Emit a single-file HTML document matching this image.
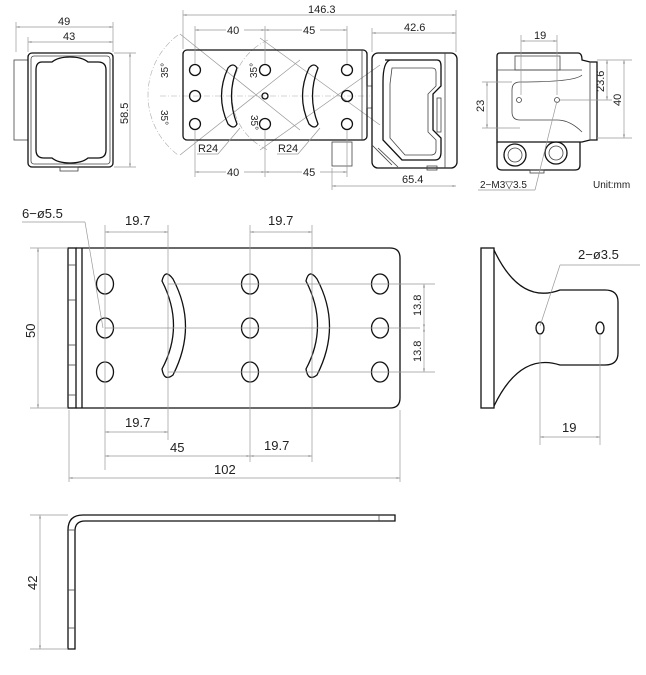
<!DOCTYPE html>
<html><head><meta charset="utf-8"><style>
html,body{margin:0;padding:0;background:#fff;}
svg{display:block;}
text{font-family:"Liberation Sans",sans-serif;fill:#222;}
.o{fill:none;stroke:#111;stroke-width:1.3}
.t{fill:none;stroke:#444;stroke-width:0.8}
.d{fill:none;stroke:#999;stroke-width:0.7}
.c{fill:none;stroke:#aaa;stroke-width:0.6;stroke-dasharray:6 2 1 2}
</style></head><body>
<svg width="646" height="675" viewBox="0 0 646 675" xmlns="http://www.w3.org/2000/svg">
<defs>
<marker id="a" viewBox="0 0 10 10" refX="10" refY="5" markerWidth="7" markerHeight="5" orient="auto-start-reverse"><path d="M0,2L10,5L0,8z" fill="#999"/></marker>
</defs>

<!-- ===== Top-left front view ===== -->
<rect x="14" y="60" width="14" height="80" class="t"/>
<rect x="28" y="53" width="85" height="114" rx="4" class="o"/>
<rect x="31" y="56" width="79" height="108" rx="3" class="t"/>
<path d="M42,62 Q36,62 36,70 L36,150 Q36,158 44,158 L52,158 Q58,163 70,163 Q82,163 88,158 L98,158 Q106,158 106,150 L106,70 Q106,62 98,62 L88,62 Q82,57 70,57 Q58,57 52,62 Z" class="o"/>
<rect x="60" y="167" width="18" height="4" class="t"/>
<line x1="16" y1="22" x2="16" y2="52" class="d"/><line x1="113" y1="22" x2="113" y2="52" class="d"/>
<line x1="16" y1="27" x2="113" y2="27" class="d" marker-start="url(#a)" marker-end="url(#a)"/>
<text x="58" y="25" font-size="11">49</text>
<line x1="28" y1="37" x2="28" y2="52" class="d"/>
<line x1="28" y1="42" x2="113" y2="42" class="d" marker-start="url(#a)" marker-end="url(#a)"/>
<text x="63" y="40" font-size="11">43</text>
<line x1="114" y1="53" x2="136" y2="53" class="d"/><line x1="114" y1="167" x2="136" y2="167" class="d"/>
<line x1="130" y1="53" x2="130" y2="167" class="d" marker-start="url(#a)" marker-end="url(#a)"/>
<text transform="translate(128,124) rotate(-90)" font-size="11">58.5</text>

<!-- ===== Top-middle view ===== -->
<line x1="160" y1="96" x2="370" y2="96" class="c"/>
<line x1="180" y1="34" x2="300" y2="130" class="d"/>
<line x1="180" y1="155" x2="300" y2="60" class="d"/>
<line x1="260" y1="38" x2="380" y2="125" class="d"/>
<line x1="260" y1="150" x2="380" y2="65" class="d"/>
<path d="M178,35 A75,75 0 0 0 178,155" class="c"/>
<path d="M268,40 A60,60 0 0 0 268,150" class="c"/>
<rect x="183" y="50" width="184" height="90" rx="4" class="o"/>
<line x1="362" y1="50" x2="362" y2="140" class="t"/>
<rect x="367" y="86" width="5" height="22" class="t"/>
<g class="o">
<circle cx="195" cy="70" r="5.5"/><circle cx="195" cy="96" r="5.5"/><circle cx="195" cy="124" r="5.5"/>
<circle cx="265" cy="70" r="5.5"/><circle cx="265" cy="96" r="3"/><circle cx="265" cy="124" r="5.5"/>
<circle cx="347" cy="70" r="5.5"/><circle cx="347" cy="96" r="5.5"/><circle cx="347" cy="124" r="5.5"/>
<path d="M228,68 Q215,96 228,124 Q234,130 237,124 Q226,96 237,68 Q233,62 228,68Z"/>
<path d="M309,68 Q296,96 309,124 Q315,130 318,124 Q307,96 318,68 Q314,62 309,68Z"/>
</g>
<!-- camera side -->
<rect x="372" y="53" width="85" height="115" rx="6" class="o"/>
<line x1="445" y1="53" x2="445" y2="168" class="t"/>
<path d="M385,60 L437,60 Q441,60 441,66 L441,86 L433,94 L433,130 L441,138 L441,152 Q441,160 435,160 L402,160 L383,140 L383,82 Q383,62 390,60" class="o"/>
<path d="M392,68 L432,68 Q436,68 436,72 L436,86 L428,94 L428,132 L436,140 L436,150 Q436,155 431,155 L405,155 L390,138 L390,84 Z" class="t"/>
<rect x="437" y="98" width="4" height="34" class="t"/>
<rect x="332" y="142" width="20" height="24" class="t"/>
<path d="M372,145 L392,165 M378,148 L398,167" class="t"/>
<rect x="427" y="166" width="10" height="4" class="t"/>
<!-- dims -->
<line x1="183" y1="10" x2="183" y2="49" class="d"/><line x1="456" y1="10" x2="456" y2="52" class="d"/>
<line x1="183" y1="15" x2="456" y2="15" class="d" marker-start="url(#a)" marker-end="url(#a)"/>
<text x="308" y="13" font-size="11">146.3</text>
<line x1="195" y1="26" x2="195" y2="64" class="d"/><line x1="265" y1="26" x2="265" y2="64" class="d"/><line x1="347" y1="26" x2="347" y2="64" class="d"/>
<line x1="195" y1="30" x2="265" y2="30" class="d" marker-start="url(#a)" marker-end="url(#a)"/>
<line x1="265" y1="30" x2="347" y2="30" class="d" marker-start="url(#a)" marker-end="url(#a)"/>
<rect x="226" y="24" width="18" height="10" fill="#fff"/><text x="227" y="34" font-size="11">40</text>
<rect x="302" y="24" width="18" height="10" fill="#fff"/><text x="303" y="34" font-size="11">45</text>
<line x1="372" y1="28" x2="372" y2="52" class="d"/>
<line x1="372" y1="33" x2="456" y2="33" class="d" marker-start="url(#a)" marker-end="url(#a)"/>
<text x="404" y="31" font-size="11">42.6</text>
<line x1="195" y1="130" x2="195" y2="177" class="d"/><line x1="265" y1="130" x2="265" y2="177" class="d"/><line x1="347" y1="130" x2="347" y2="177" class="d"/>
<line x1="195" y1="172" x2="265" y2="172" class="d" marker-start="url(#a)" marker-end="url(#a)"/>
<line x1="265" y1="172" x2="347" y2="172" class="d" marker-start="url(#a)" marker-end="url(#a)"/>
<rect x="226" y="166" width="18" height="10" fill="#fff"/><text x="227" y="176" font-size="11">40</text>
<rect x="302" y="166" width="18" height="10" fill="#fff"/><text x="303" y="176" font-size="11">45</text>
<line x1="332" y1="168" x2="332" y2="190" class="d"/>
<line x1="332" y1="186" x2="456" y2="186" class="d" marker-start="url(#a)" marker-end="url(#a)"/>
<text x="402" y="183" font-size="11">65.4</text>
<text x="198" y="152" font-size="11">R24</text><line x1="197" y1="154" x2="218" y2="154" class="d"/><line x1="218" y1="154" x2="240" y2="128" class="d"/>
<text x="278" y="152" font-size="11">R24</text><line x1="277" y1="154" x2="298" y2="154" class="d"/><line x1="298" y1="154" x2="320" y2="128" class="d"/>
<text transform="translate(168,78) rotate(-90)" font-size="10">35°</text>
<text transform="translate(161,110) rotate(90)" font-size="10">35°</text>
<text transform="translate(257,78) rotate(-90)" font-size="10">35°</text>
<text transform="translate(251,115) rotate(90)" font-size="10">35°</text>

<!-- ===== Top-right view ===== -->
<path d="M500,53 L578,53 Q582,53 582,60 L590,62 L597,62 L597,140 L590,140 L582,142 L497,142 L497,56 Q497,53 500,53Z" class="o"/>
<line x1="590" y1="62" x2="590" y2="140" class="t"/>
<rect x="515" y="56" width="45" height="14" class="t"/>
<line x1="497" y1="70" x2="582" y2="70" class="t"/>
<path d="M582,75 Q575,82 520,82 Q512,82 512,90 L512,112 Q512,120 520,120 L557,120 Q570,120 582,132" class="t"/>
<circle cx="519" cy="100" r="2.5" class="t"/><circle cx="557" cy="100" r="2.5" class="t"/>
<path d="M497,142 L497,165 Q497,170 502,170 L575,170 Q580,170 580,165 L580,142" class="o"/>
<circle cx="515" cy="155" r="11" class="o"/><circle cx="515" cy="155" r="7" class="t"/>
<circle cx="556" cy="153" r="11" class="o"/><circle cx="556" cy="153" r="7" class="t"/>
<rect x="530" y="170" width="14" height="3" class="t"/>
<line x1="521" y1="35" x2="521" y2="95" class="d"/><line x1="557" y1="35" x2="557" y2="95" class="d"/>
<line x1="521" y1="41" x2="557" y2="41" class="d" marker-start="url(#a)" marker-end="url(#a)"/>
<text x="534" y="39" font-size="11">19</text>
<line x1="482" y1="82" x2="512" y2="82" class="d"/><line x1="482" y1="128" x2="520" y2="128" class="d"/>
<line x1="487" y1="82" x2="487" y2="128" class="d" marker-start="url(#a)" marker-end="url(#a)"/>
<text transform="translate(484,112) rotate(-90)" font-size="11">23</text>
<line x1="597" y1="60" x2="632" y2="60" class="d"/><line x1="560" y1="100" x2="612" y2="100" class="d"/><line x1="597" y1="138" x2="632" y2="138" class="d"/>
<line x1="607" y1="60" x2="607" y2="100" class="d" marker-start="url(#a)" marker-end="url(#a)"/>
<text transform="translate(604,92) rotate(-90)" font-size="11">23.6</text>
<line x1="624" y1="60" x2="624" y2="138" class="d" marker-start="url(#a)" marker-end="url(#a)"/>
<text transform="translate(621,106) rotate(-90)" font-size="11">40</text>
<text x="480" y="188" font-size="10">2−M3▽3.5</text>
<line x1="478" y1="190" x2="535" y2="190" class="d"/><line x1="535" y1="190" x2="557" y2="101" class="d"/>
<text x="593" y="188" font-size="10">Unit:mm</text>

<!-- ===== Middle: plate ===== -->
<rect x="68" y="248" width="8" height="160" class="o"/>
<line x1="68" y1="265" x2="76" y2="265" class="t"/><line x1="68" y1="300" x2="76" y2="300" class="t"/><line x1="68" y1="345" x2="76" y2="345" class="t"/><line x1="68" y1="365" x2="76" y2="365" class="t"/><line x1="68" y1="395" x2="76" y2="395" class="t"/>
<path d="M76,248 L390,248 Q400,248 400,258 L400,398 Q400,408 390,408 L76,408" class="o"/>
<line x1="82" y1="248" x2="82" y2="408" class="o"/>
<g class="o">
<ellipse cx="105" cy="284" rx="8.5" ry="10"/><ellipse cx="105" cy="328" rx="8.5" ry="10"/><ellipse cx="105" cy="372" rx="8.5" ry="10"/>
<ellipse cx="250" cy="284" rx="8.5" ry="10"/><ellipse cx="250" cy="328" rx="8.5" ry="10"/><ellipse cx="250" cy="372" rx="8.5" ry="10"/>
<ellipse cx="380" cy="284" rx="8.5" ry="10"/><ellipse cx="380" cy="328" rx="8.5" ry="10"/><ellipse cx="380" cy="372" rx="8.5" ry="10"/>
<path d="M162,281 Q185,326 162,369 Q164,382 173,375 Q198,326 173,279 Q165,268 162,281Z"/>
<path d="M306,281 Q329,326 306,369 Q308,382 317,375 Q342,326 317,279 Q309,268 306,281Z"/>
</g>
<line x1="105" y1="328" x2="420" y2="328" class="d"/>
<line x1="168" y1="284" x2="435" y2="284" class="d"/>
<line x1="168" y1="372" x2="435" y2="372" class="d"/>
<line x1="424" y1="284" x2="424" y2="328" class="d" marker-start="url(#a)" marker-end="url(#a)"/>
<line x1="424" y1="328" x2="424" y2="372" class="d" marker-start="url(#a)" marker-end="url(#a)"/>
<text transform="translate(421,316) rotate(-90)" font-size="11">13.8</text>
<text transform="translate(421,362) rotate(-90)" font-size="11">13.8</text>
<line x1="105" y1="225" x2="105" y2="470" class="d"/><line x1="168" y1="225" x2="168" y2="440" class="d"/>
<line x1="250" y1="225" x2="250" y2="462" class="d"/><line x1="312" y1="225" x2="312" y2="462" class="d"/>
<line x1="105" y1="232" x2="168" y2="232" class="d" marker-start="url(#a)" marker-end="url(#a)"/>
<text x="125" y="225" font-size="13">19.7</text>
<line x1="250" y1="232" x2="312" y2="232" class="d" marker-start="url(#a)" marker-end="url(#a)"/>
<text x="268" y="225" font-size="13">19.7</text>
<line x1="105" y1="432" x2="168" y2="432" class="d" marker-start="url(#a)" marker-end="url(#a)"/>
<text x="125" y="427" font-size="13">19.7</text>
<line x1="105" y1="456" x2="250" y2="456" class="d" marker-start="url(#a)" marker-end="url(#a)"/>
<text x="170" y="452" font-size="13">45</text>
<line x1="250" y1="456" x2="312" y2="456" class="d" marker-start="url(#a)" marker-end="url(#a)"/>
<text x="264" y="450" font-size="13">19.7</text>
<line x1="69" y1="410" x2="69" y2="482" class="d"/><line x1="400" y1="410" x2="400" y2="482" class="d"/>
<line x1="69" y1="478" x2="400" y2="478" class="d" marker-start="url(#a)" marker-end="url(#a)"/>
<text x="214" y="474" font-size="13">102</text>
<line x1="30" y1="248" x2="68" y2="248" class="d"/><line x1="30" y1="408" x2="68" y2="408" class="d"/>
<line x1="38" y1="248" x2="38" y2="408" class="d" marker-start="url(#a)" marker-end="url(#a)"/>
<text transform="translate(35,338) rotate(-90)" font-size="13">50</text>
<text x="22" y="218" font-size="13">6−ø5.5</text>
<line x1="22" y1="222" x2="85" y2="222" class="d"/><line x1="85" y1="222" x2="103" y2="328" class="d"/>

<!-- side bracket -->
<rect x="481" y="248" width="13" height="160" class="o"/>
<path d="M494,250 Q520,305 560,290 L605,290 Q618,290 618,302 L618,353 Q618,365 605,365 L560,365 Q520,352 494,406" class="o"/>
<ellipse cx="540" cy="328" rx="4" ry="6" class="o"/><ellipse cx="600" cy="328" rx="4" ry="6" class="o"/>
<line x1="540" y1="334" x2="540" y2="445" class="d"/><line x1="600" y1="334" x2="600" y2="445" class="d"/>
<line x1="540" y1="437" x2="600" y2="437" class="d" marker-start="url(#a)" marker-end="url(#a)"/>
<text x="562" y="432" font-size="13">19</text>
<text x="578" y="259" font-size="13">2−ø3.5</text>
<line x1="560" y1="265" x2="640" y2="265" class="d"/><line x1="560" y1="265" x2="540" y2="326" class="d"/>

<!-- ===== Bottom L view ===== -->
<path d="M68,649 L68,530 Q68,515 83,515 L395,515 L395,521 L85,521 Q75,521 75,531 L75,649 Z" class="o"/>
<line x1="379" y1="515" x2="379" y2="521" class="t"/>
<line x1="68" y1="530" x2="75" y2="530" class="t"/><line x1="68" y1="590" x2="75" y2="590" class="t"/><line x1="68" y1="628" x2="75" y2="628" class="t"/>
<line x1="30" y1="515" x2="68" y2="515" class="d"/><line x1="30" y1="649" x2="68" y2="649" class="d"/>
<line x1="40" y1="515" x2="40" y2="649" class="d" marker-start="url(#a)" marker-end="url(#a)"/>
<text transform="translate(37,590) rotate(-90)" font-size="13">42</text>
</svg>
</body></html>
